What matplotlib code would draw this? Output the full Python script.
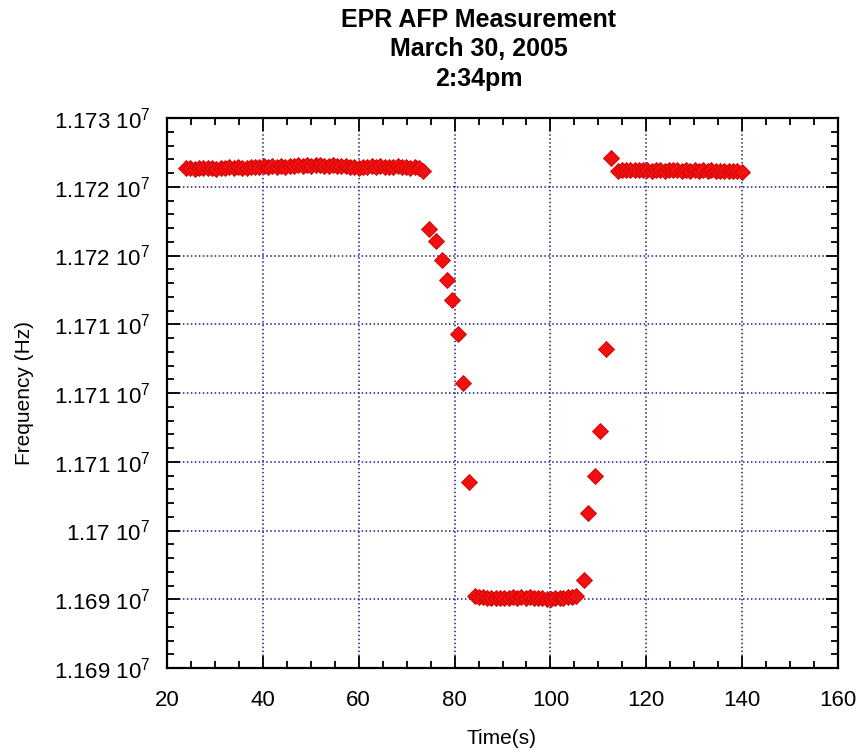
import matplotlib
matplotlib.use("Agg")
import matplotlib.pyplot as plt
from matplotlib.ticker import MultipleLocator, FixedLocator

plt.rcParams['font.family'] = ['Liberation Sans', 'DejaVu Sans']
plt.rcParams['mathtext.default'] = 'regular'

# before the flip
t_high = [24.0, 24.9, 25.8, 26.7, 27.6, 28.5, 29.4, 30.3, 31.2, 32.1, 33.0, 33.9,
          34.8, 35.7, 36.6, 37.5, 38.4, 39.3, 40.2, 41.1, 42.0, 42.9, 43.8, 44.7,
          45.6, 46.5, 47.4, 48.3, 49.2, 50.1, 51.0, 51.9, 52.8, 53.7, 54.6, 55.5,
          56.4, 57.3, 58.2, 59.1, 60.0, 60.9, 61.8, 62.7, 63.6, 64.5, 65.4, 66.3,
          67.2, 68.1, 69.0, 69.9, 70.8, 71.7, 72.6, 73.5]
f_high = [11726330, 11726360, 11726310, 11726350, 11726380, 11726340, 11726370,
          11726320, 11726390, 11726350, 11726410, 11726370, 11726420, 11726400,
          11726380, 11726440, 11726410, 11726450, 11726510, 11726460, 11726480,
          11726440, 11726520, 11726470, 11726540, 11726500, 11726560, 11726530,
          11726580, 11726520, 11726550, 11726580, 11726490, 11726530, 11726560,
          11726500, 11726540, 11726480, 11726430, 11726470, 11726380, 11726440,
          11726470, 11726520, 11726420, 11726500, 11726450, 11726420, 11726460,
          11726480, 11726410, 11726450, 11726400, 11726430, 11726380, 11726150]

# sweep down
t_down = [74.7, 76.1, 77.3, 78.4, 79.5, 80.7, 81.8, 83.0]
f_down = [11721900, 11721080, 11719670, 11718220, 11716760, 11714270, 11710750, 11703550]

# flipped state
t_low = [84.2, 85.1, 86.0, 86.8, 87.7, 88.6, 89.5, 90.4, 91.3, 92.1, 93.0, 93.9,
         94.8, 95.7, 96.6, 97.4, 98.3, 99.2, 100.1, 101.0, 101.9, 102.7, 103.6,
         104.5, 105.4]
f_low = [11695230, 11695180, 11695150, 11695120, 11695100, 11695080, 11695110,
         11695060, 11695090, 11695130, 11695110, 11695150, 11695120, 11695140,
         11695100, 11695060, 11695080, 11695050, 11695030, 11695060, 11695090,
         11695070, 11695130, 11695170, 11695220]

# sweep back up
t_up = [106.9, 107.9, 109.2, 110.3, 111.5, 112.7]
f_up = [11696400, 11701250, 11703960, 11707240, 11713200, 11727070]

# after the second flip
t_back = [114.0, 114.9, 115.8, 116.7, 117.6, 118.5, 119.4, 120.2, 121.1, 122.0,
          122.9, 123.8, 124.7, 125.6, 126.5, 127.4, 128.3, 129.2, 130.1, 131.0,
          131.9, 132.8, 133.6, 134.5, 135.4, 136.3, 137.2, 138.1, 139.0, 139.9]
f_back = [11726180, 11726220, 11726200, 11726230, 11726190, 11726210, 11726240,
          11726200, 11726180, 11726220, 11726250, 11726170, 11726190, 11726230,
          11726200, 11726160, 11726210, 11726180, 11726230, 11726150, 11726190,
          11726160, 11726200, 11726130, 11726150, 11726170, 11726120, 11726140,
          11726110, 11726080]

ytick_vals = [11690000, 11695000, 11700000, 11705000, 11710000, 11715000,
              11720000, 11725000, 11730000]
ytick_labels = ['1.169', '1.169', '1.17', '1.171', '1.171', '1.171',
                '1.172', '1.172', '1.173']

t = t_high + t_down + t_low + t_up + t_back
f = f_high + f_down + f_low + f_up + f_back

fig = plt.figure(figsize=(8.62, 7.55), dpi=100)
ax = fig.add_axes([0.1937, 0.1152, 0.7785, 0.7285])

ax.plot(t, f, linestyle='none', marker='D', markersize=8.3,
        color='#f01010', markeredgecolor='#d00000', markeredgewidth=0.6, zorder=3)

ax.set_xlim(20, 160)
ax.set_ylim(11690000, 11730000)
ax.xaxis.set_major_locator(MultipleLocator(20))
ax.xaxis.set_minor_locator(MultipleLocator(5))
ax.yaxis.set_major_locator(FixedLocator(ytick_vals))
ax.yaxis.set_minor_locator(MultipleLocator(1000))
ax.set_yticklabels([s + r' 10$^{7}$' for s in ytick_labels])

ax.grid(True, which='major', color='#1c1c8c', linestyle=(0, (1, 1.6)), linewidth=1.1)
ax.tick_params(which='both', direction='in', top=True, right=True,
               colors='black', labelsize=16, width=1.3)
ax.tick_params(which='major', length=9)
ax.tick_params(which='minor', length=5)
ax.tick_params(axis='x', pad=16)
ax.tick_params(axis='y', pad=12)
for sp in ax.spines.values():
    sp.set_linewidth(1.6)

ax.set_xlabel('Time(s)', fontsize=15)
ax.set_ylabel('Frequency (Hz)', fontsize=15)
ax.xaxis.set_label_coords(0.499, -0.11)
ax.yaxis.set_label_coords(-0.198, 0.5)

fig.text(0.555, 0.99, 'EPR AFP Measurement\nMarch 30, 2005\n2:34pm',
         ha='center', va='top', fontsize=18, fontweight='bold', linespacing=1.3)

fig.savefig('out.png', dpi=100)
